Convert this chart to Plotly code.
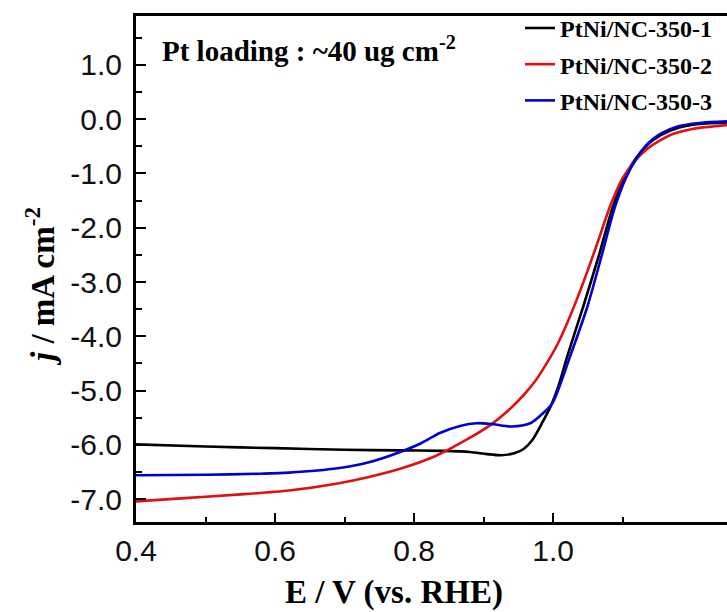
import plotly.graph_objects as go

# LSV curves (E in V vs. RHE, j in mA cm-2)
e_350_1 = [0.40, 0.50, 0.60, 0.70, 0.78, 0.84, 0.88, 0.905, 0.925, 0.945, 0.958, 0.970,
           0.983, 0.996, 1.008, 1.020, 1.043, 1.066, 1.085, 1.102, 1.118, 1.136, 1.154, 1.18, 1.21, 1.25]
j_350_1 = [-5.99, -6.03, -6.06, -6.09, -6.10, -6.11, -6.13, -6.17, -6.19, -6.15, -6.07, -5.91,
           -5.62, -5.30, -4.90, -4.38, -3.46, -2.50, -1.65, -1.10, -0.74, -0.47, -0.30, -0.16, -0.09, -0.06]

e_350_2 = [0.40, 0.47, 0.54, 0.62, 0.69, 0.735, 0.78, 0.83, 0.876, 0.909, 0.935, 0.957, 0.975,
           0.991, 1.006, 1.020, 1.043, 1.065, 1.082, 1.100, 1.117, 1.135, 1.155, 1.173, 1.20, 1.25]
j_350_2 = [-7.04, -6.98, -6.92, -6.84, -6.71, -6.59, -6.44, -6.21, -5.90, -5.64, -5.37, -5.09, -4.81,
           -4.49, -4.15, -3.76, -3.02, -2.23, -1.60, -1.08, -0.78, -0.55, -0.38, -0.27, -0.18, -0.11]

e_350_3 = [0.40, 0.50, 0.58, 0.62, 0.69, 0.735, 0.78, 0.81, 0.837, 0.866, 0.890, 0.914, 0.940, 0.967,
           0.985, 0.999, 1.024, 1.049, 1.070, 1.088, 1.104, 1.120, 1.137, 1.154, 1.18, 1.21, 1.25]
j_350_3 = [-6.56, -6.55, -6.53, -6.51, -6.43, -6.32, -6.13, -5.97, -5.78, -5.65, -5.60, -5.62, -5.66, -5.60,
           -5.42, -5.23, -4.38, -3.46, -2.50, -1.65, -1.10, -0.72, -0.44, -0.27, -0.13, -0.07, -0.04]

series_names = ['PtNi/NC-350-1', 'PtNi/NC-350-2', 'PtNi/NC-350-3']
series_colors = ['#000000', '#e01010', '#0000d0']

x_tickvals = [0.4, 0.6, 0.8, 1.0]
x_ticktext = ['0.4', '0.6', '0.8', '1.0']
y_tickvals = [1, 0, -1, -2, -3, -4, -5, -6, -7]
y_ticktext = ['1.0', '0.0', '-1.0', '-2.0', '-3.0', '-4.0', '-5.0', '-6.0', '-7.0']

serif = 'Liberation Serif'
sans = 'Liberation Sans'

fig = go.Figure()
for i, (xs, ys) in enumerate([(e_350_1, j_350_1), (e_350_2, j_350_2), (e_350_3, j_350_3)]):
    fig.add_trace(go.Scatter(x=xs, y=ys, mode='lines', name=series_names[i],
                             legendgroup=str(i),
                             line=dict(color=series_colors[i], width=2.6, shape='spline', smoothing=0.8)))

fig.update_xaxes(range=[0.4, 1.25], tickmode='array', tickvals=x_tickvals, ticktext=x_ticktext,
                 ticks='inside', ticklen=9, tickwidth=2, tickcolor='black',
                 minor=dict(tickvals=[0.5, 0.7, 0.9, 1.1], ticks='inside', ticklen=5, tickwidth=2, tickcolor='black'),
                 showline=True, linewidth=3, linecolor='black', mirror=True,
                 showgrid=False, zeroline=False,
                 tickfont=dict(family=sans, size=30, color='#111111'))
fig.update_yaxes(range=[-7.42, 1.9], tickmode='array', tickvals=y_tickvals, ticktext=y_ticktext,
                 ticks='inside', ticklen=10, tickwidth=2, tickcolor='black',
                 minor=dict(tickvals=[1.5, 0.5, -0.5, -1.5, -2.5, -3.5, -4.5, -5.5, -6.5],
                            ticks='inside', ticklen=6, tickwidth=2, tickcolor='black'),
                 showline=True, linewidth=3, linecolor='black', mirror=False,
                 showgrid=False, zeroline=False, ticklabelstandoff=5,
                 tickfont=dict(family=sans, size=30, color='#111111'))

fig.add_annotation(text='E / V (vs. RHE)', xref='paper', yref='paper', x=(394 - 136) / 591, y=-70 / 506,
                   xanchor='center', yanchor='middle', showarrow=False,
                   font=dict(family=serif, size=33, color='black', weight='bold'))
fig.add_annotation(text='<i>j</i> / mA cm<sup>-2</sup>', xref='paper', yref='paper', x=(40 - 136) / 591,
                   y=0.5 - 18 / 506, xanchor='center', yanchor='middle', textangle=-90, showarrow=False,
                   font=dict(family=serif, size=33, color='black', weight='bold'))
fig.add_annotation(text='Pt loading : ~40 ug cm<sup>-2</sup>', xref='paper', yref='paper',
                   x=(160 - 136) / 591, y=(522 - 49) / 506, xanchor='left', yanchor='middle', showarrow=False,
                   font=dict(family=serif, size=29, color='black', weight='bold'))

fig.update_layout(
    width=727, height=612,
    margin=dict(l=136, r=0, t=16, b=90),
    plot_bgcolor='white', paper_bgcolor='white',
    legend=dict(x=(520 - 136) / 591, y=1.02, xanchor='left', yanchor='top',
                bgcolor='rgba(0,0,0,0)', tracegroupgap=2, itemwidth=30,
                font=dict(family=serif, size=24, color='black', weight='bold')),
)

# drop the default 8px page margin so the figure fills the window exactly
fig.write_html("out.html", config={'displayModeBar': False},
               post_script="document.body.style.margin='0';document.body.style.overflow='hidden';")
